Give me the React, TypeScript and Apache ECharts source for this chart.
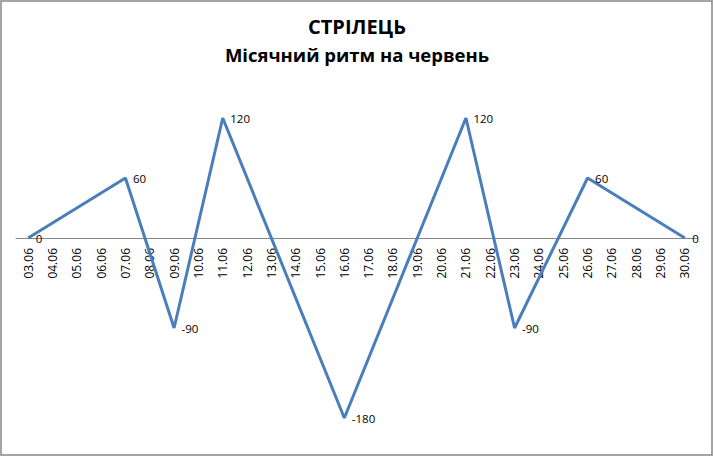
import React, { useEffect, useRef } from "react";
import * as echarts from "echarts";

const categories = [
  "03.06", "04.06", "05.06", "06.06", "07.06", "08.06", "09.06", "10.06",
  "11.06", "12.06", "13.06", "14.06", "15.06", "16.06", "17.06", "18.06",
  "19.06", "20.06", "21.06", "22.06", "23.06", "24.06", "25.06", "26.06",
  "27.06", "28.06", "29.06", "30.06",
];
const pointDates = ["03.06", "07.06", "09.06", "11.06", "16.06", "21.06", "23.06", "26.06", "30.06"];
const pointValues = [0, 60, -90, 120, -180, 120, -90, 60, 0];

const titleText = "СТРІЛЕЦЬ";
const subtitleText = "Місячний ритм на червень";

const Y_MIN = -200;
const Y_MAX = 150;

export default function App() {
  const ref = useRef<HTMLDivElement>(null);
  useEffect(() => {
    if (!ref.current) return;
    const chart = echarts.init(ref.current, null, { renderer: "svg" });
    const seriesData = categories.map((c) => {
      const i = pointDates.indexOf(c);
      return i >= 0 ? pointValues[i] : null;
    });
    const gridTop = 88;
    const gridBottom = 19;
    const plotH = 457 - gridTop - gridBottom;
    const zeroFromBottom = (plotH * (0 - Y_MIN)) / (Y_MAX - Y_MIN);
    chart.setOption({
      animation: false,
      backgroundColor: "#ffffff",
      title: {
        text: titleText,
        subtext: subtitleText,
        left: "center",
        top: 11,
        itemGap: 9,
        textStyle: { fontFamily: "Open Sans", fontSize: 20, fontWeight: "bold", color: "#000" },
        subtextStyle: { fontFamily: "Open Sans", fontSize: 18.5, fontWeight: "bold", color: "#000" },
      },
      graphic: [
        {
          type: "rect",
          shape: { x: 1, y: 1, width: 711, height: 454 },
          style: { fill: "none", stroke: "#868686", lineWidth: 1.5 },
          silent: true,
        },
      ],
      grid: {
        left: 16,
        right: 17,
        top: gridTop,
        bottom: gridBottom,
        containLabel: false,
        outerBoundsMode: "none",
      },
      xAxis: {
        type: "category",
        data: categories,
        boundaryGap: true,
        offset: -zeroFromBottom,
        axisLine: { show: true, onZero: false, lineStyle: { color: "#868686", width: 1 } },
        axisTick: { show: false },
        axisLabel: {
          rotate: 90,
          interval: 0,
          margin: 10,
          fontFamily: "Open Sans",
          fontSize: 12,
          color: "#000",
        },
        splitLine: { show: false },
      },
      yAxis: {
        type: "value",
        min: Y_MIN,
        max: Y_MAX,
        interval: 50,
        show: false,
        splitLine: { show: false },
      },
      series: [
        {
          type: "line",
          data: seriesData,
          connectNulls: true,
          showSymbol: true,
          symbol: "circle",
          symbolSize: 1,
          itemStyle: { color: "rgba(0,0,0,0)" },
          lineStyle: { color: "#4A7EBB", width: 3 },
          label: {
            show: true,
            position: "right",
            distance: 7,
            fontFamily: "Open Sans",
            fontSize: 11.5,
            color: "#000",
            formatter: (p: any) => (p.value === null || p.value === undefined ? "" : String(p.value)),
          },
        },
      ],
    });
    return () => chart.dispose();
  }, []);
  return (
    <div
      ref={ref}
      style={{ position: "fixed", left: 0, top: 0, width: 714, height: 457 }}
    />
  );
}
